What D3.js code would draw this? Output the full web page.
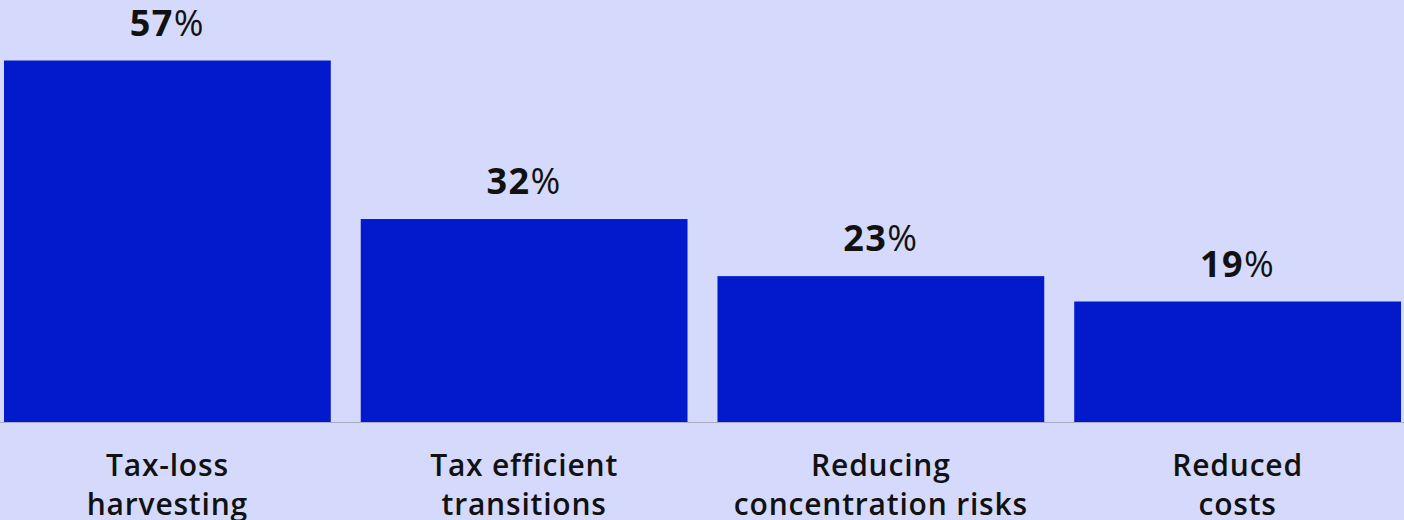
<!DOCTYPE html>
<html>
<head>
<meta charset="utf-8">
<script src="https://cdn.jsdelivr.net/npm/d3@7"></script>
<style>
  html, body { margin: 0; padding: 0; background: #d5dafd; }
  svg { display: block; }
</style>
</head>
<body>
<svg id="chart" width="1404" height="520"></svg>
<script>
// Survey responses: share choosing each benefit
const categories = [
  ["Tax-loss", "harvesting"],
  ["Tax efficient", "transitions"],
  ["Reducing", "concentration risks"],
  ["Reduced", "costs"]
];
const values = [57, 32, 23, 19];

const W = 1404, H = 520;
const baseline = 422;
const svg = d3.select("#chart");

svg.append("rect").attr("width", W).attr("height", H).attr("fill", "#d5dafd");

const x = d3.scaleBand()
  .domain(d3.range(values.length))
  .range([4, 1401])
  .paddingInner(0.084)
  .paddingOuter(0);

const y = d3.scaleLinear()
  .domain([0, 57])
  .range([baseline, 60.5]);

const font = "'Open Sans', Lato, sans-serif";

svg.selectAll("rect.bar")
  .data(values)
  .join("rect")
  .attr("class", "bar")
  .attr("x", (d, i) => x(i))
  .attr("width", x.bandwidth())
  .attr("y", d => y(d))
  .attr("height", d => baseline - y(d))
  .attr("fill", "#0319cc");

// baseline rule
svg.append("line")
  .attr("x1", 0).attr("x2", W)
  .attr("y1", baseline + 0.5).attr("y2", baseline + 0.5)
  .attr("stroke", "#a9acbf").attr("stroke-width", 1);

// value labels
const vl = svg.selectAll("text.val")
  .data(values)
  .join("text")
  .attr("class", "val")
  .attr("x", (d, i) => x(i) + x.bandwidth() / 2)
  .attr("y", d => y(d) - 25)
  .attr("text-anchor", "middle")
  .attr("font-family", font)
  .attr("font-size", 36)
  .attr("letter-spacing", 1.5)
  .attr("fill", "#111111");
vl.append("tspan").attr("font-weight", 700).text(d => d);
vl.append("tspan").attr("font-weight", 400).text("%");

// category labels
const cl = svg.selectAll("text.cat")
  .data(categories)
  .join("text")
  .attr("class", "cat")
  .attr("text-anchor", "middle")
  .attr("font-family", font)
  .attr("font-weight", 600)
  .attr("font-size", 30)
  .attr("letter-spacing", 0.8)
  .attr("fill", "#111111");
cl.selectAll("tspan")
  .data((d, i) => d.map(t => ({ t, i })))
  .join("tspan")
  .attr("x", d => x(d.i) + x.bandwidth() / 2)
  .attr("y", (d, j) => 476 + j * 39)
  .text(d => d.t);
</script>
</body>
</html>
